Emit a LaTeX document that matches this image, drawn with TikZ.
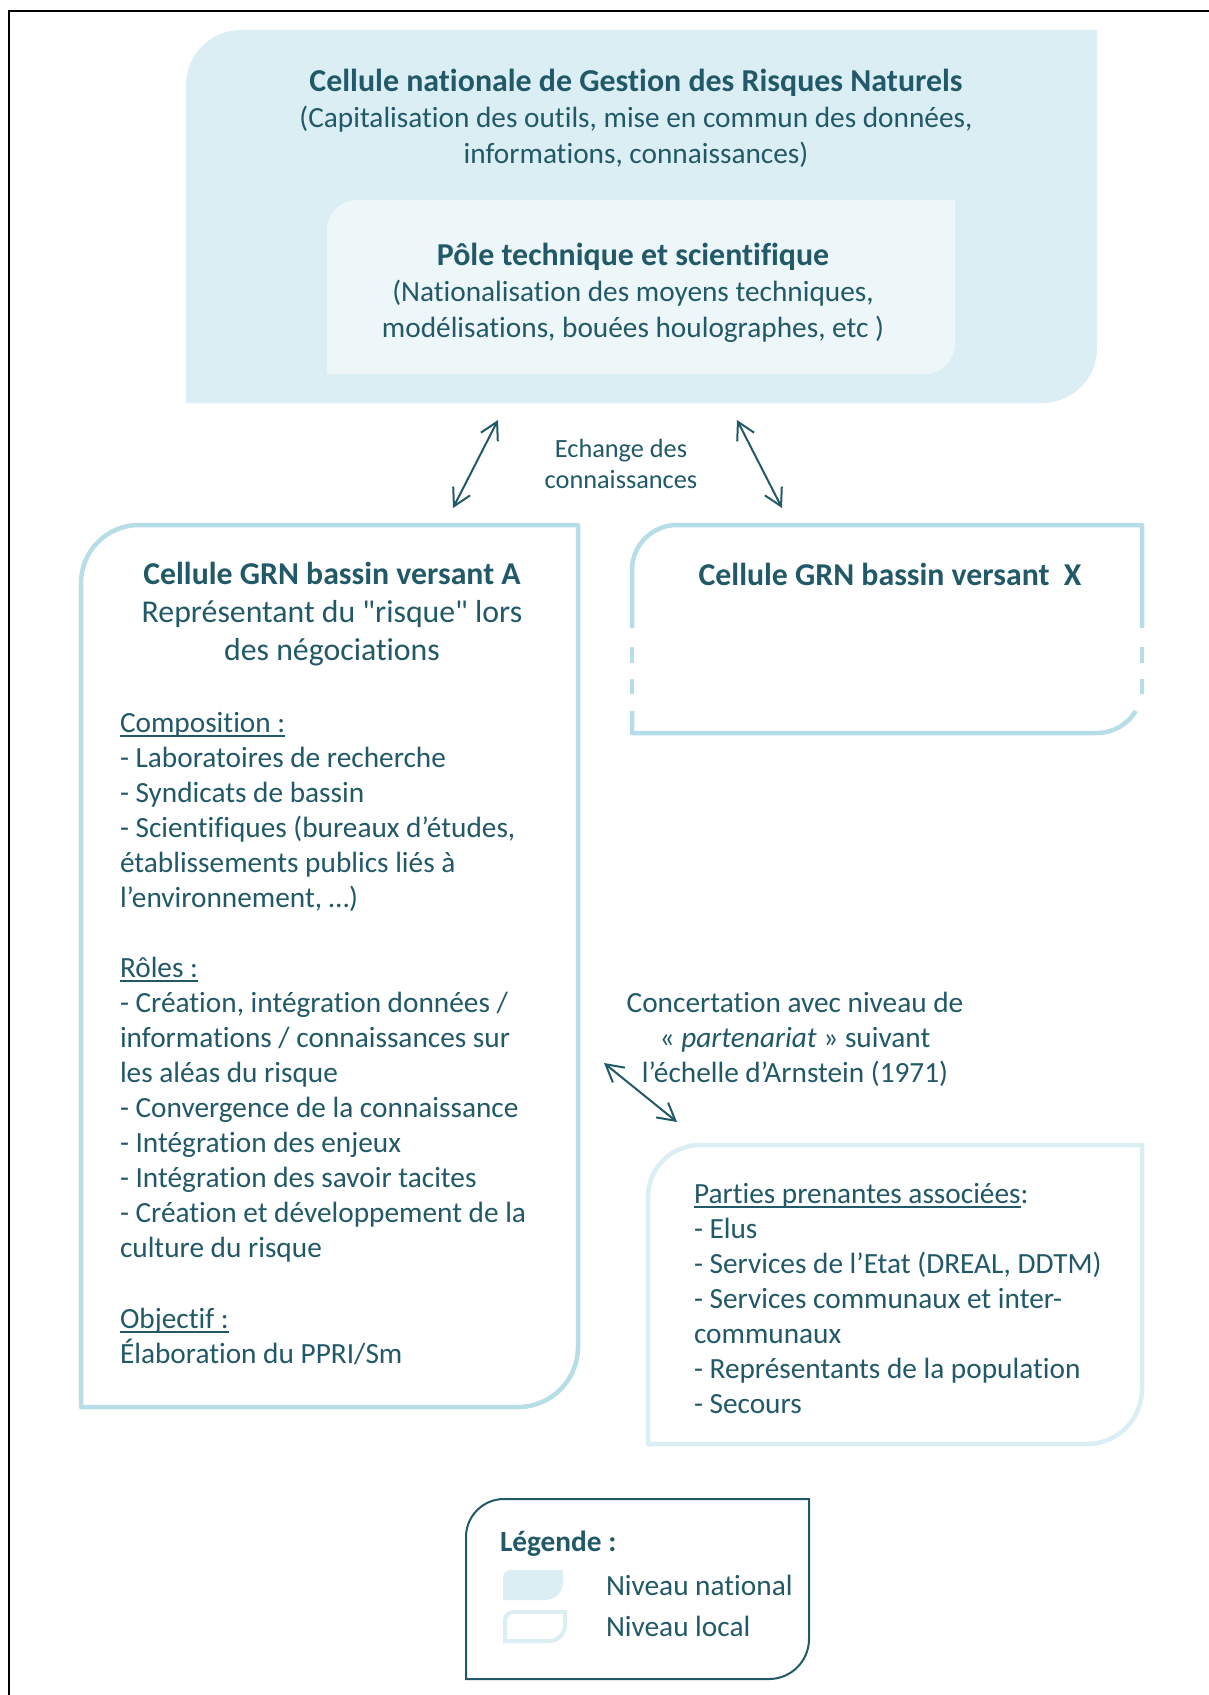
\documentclass[tikz,border=0pt]{standalone}
\usepackage{fontspec}
\setmainfont{Carlito}[Ligatures=NoCommon]
\usetikzlibrary{arrows.meta}
\definecolor{tealdark}{HTML}{215968}
\definecolor{natfill}{HTML}{DAEEF3}
\definecolor{polefill}{HTML}{EDF6F9}
\definecolor{localline}{HTML}{B7DEE8}
\definecolor{partline}{HTML}{DAEEF3}
\newcommand\myul[1]{\setbox0=\hbox{#1}\rlap{\rule[-4.5pt]{\wd0}{1.8pt}}\box0}
\newcommand\fsBody{\fontsize{29.3}{35.06}\selectfont}
\newcommand\fsNat{\fontsize{29.3}{35.8}\selectfont}
\newcommand\fsNatTit{\fontsize{31.9}{35.8}\selectfont\bfseries}
\newcommand\fsTitA{\fontsize{31.8}{38.3}\selectfont}
\newcommand\fsEch{\fontsize{26.3}{31}\selectfont}
\tikzset{
  tlbr/.style n args={6}{insert path={({#1},{#4}) -- ({#1},{#2-#5}) arc[start angle=180,end angle=90,radius=#5] -- ({#3},{#2}) -- ({#3},{#4+#6}) arc[start angle=0,end angle=-90,radius=#6] -- cycle}},
  localbox/.style={draw=localline, line width=4.5pt, line join=round},
  partbox/.style={draw=partline, line width=4.5pt, line join=round},
  arr/.style={draw=tealdark, line width=2pt, {Straight Barb[length=17pt,width=19pt]}-{Straight Barb[length=17pt,width=19pt]}},
  txt/.style={text=tealdark, inner sep=0pt, outer sep=0pt}
}
\begin{document}
\begin{tikzpicture}[x=1pt,y=1pt]
\useasboundingbox (0,0) rectangle (1209,-1695);
\fill[white] (0,0) rectangle (1209,-1695);
\draw[black, line width=1.5pt] (9,-1695) -- (9,-11) -- (1209,-11);

% national cell
\fill[natfill] [tlbr={186}{-30}{1097}{-403}{55}{55}];
\fill[polefill] [tlbr={327}{-200}{955}{-374}{30}{30}];
\node[txt, anchor=base, font=\fsNat] (cn) at (636,-91.5) {\begin{tabular}[t]{@{}c@{}}{\fsNatTit Cellule nationale de Gestion des Risques Naturels}\\(Capitalisation des outils, mise en commun des données,\\informations, connaissances)\end{tabular}};
\node[txt, anchor=base, font=\fsNat] (pole) at (633,-265.5) {\begin{tabular}[t]{@{}c@{}}{\fsNatTit Pôle technique et scientifique}\\(Nationalisation des moyens techniques,\\modélisations, bouées houlographes, etc )\end{tabular}};

% exchange
\node[txt, anchor=base, font=\fsEch] (ech) at (621,-457) {\begin{tabular}[t]{@{}c@{}}Echange des\\connaissances\end{tabular}};
\coordinate (e1a) at (498,-420);
\coordinate (e1b) at (453,-508);
\coordinate (e2a) at (737,-420);
\coordinate (e2b) at (782,-508);
\draw[arr] (e1a) -- (e1b);
\draw[arr] (e2a) -- (e2b);

% box A
\path[localbox] [tlbr={81}{-525}{578}{-1407}{58}{60}];
\node[txt, anchor=base, font=\fsTitA] (titA) at (332,-584) {\begin{tabular}[t]{@{}c@{}}\textbf{Cellule GRN bassin versant A}\\Représentant du \textquotedbl risque\textquotedbl{} lors\\des négociations\end{tabular}};
\node[txt, anchor=base west, font=\fsBody] (bodyA) at (120,-732) {\begin{tabular}[t]{@{}l@{}}\myul{Composition :}\\
- Laboratoires de recherche\\
- Syndicats de bassin\\
- Scientifiques (bureaux d’études,\\
établissements publics liés à\\
l’environnement, …)\\
\\
\myul{Rôles :}\\
- Création, intégration données /\\
informations / connaissances sur\\
les aléas du risque\\
- Convergence de la connaissance\\
- Intégration des enjeux\\
- Intégration des savoir tacites\\
- Création et développement de la\\
culture du risque\\
\\
\myul{Objectif :}\\
Élaboration du PPRI/Sm\end{tabular}};

% box X
\draw[localbox] (632,-628) -- (632,-570) arc[start angle=180,end angle=90,radius=45] -- (1142,-525) -- (1142,-628);
\draw[localbox] (632,-647) -- (632,-663) (632,-679) -- (632,-694) (1142,-647) -- (1142,-663) (1142,-679) -- (1142,-694);
\draw[localbox] (632,-711) -- (632,-733) -- (1097,-733) arc[start angle=-90,end angle=-30.7,radius=45];
\node[txt, anchor=base, font=\fsTitA] (titX) at (890,-585) {\textbf{Cellule GRN bassin versant\ \ X}};

% concertation
\node[txt, anchor=base, font=\fsBody] (conc) at (795,-1012) {\begin{tabular}[t]{@{}c@{}}Concertation avec niveau de\\« \textit{partenariat} » suivant\\l’échelle d’Arnstein (1971)\end{tabular}};
\coordinate (c1a) at (604,-1063);
\coordinate (c1b) at (677,-1122);
\draw[arr] (c1a) -- (c1b);

% parties prenantes
\path[partbox] [tlbr={648}{-1145}{1142}{-1444}{52}{55}];
\node[txt, anchor=base west, font=\fsBody] (parts) at (694,-1203) {\begin{tabular}[t]{@{}l@{}}\myul{Parties prenantes associées}:\\
- Elus\\
- Services de l’Etat (DREAL, DDTM)\\
- Services communaux et inter-\\
communaux\\
- Représentants de la population\\
- Secours\end{tabular}};

% legend
\path[draw=tealdark, line width=2pt] [tlbr={466}{-1499}{809}{-1679}{38}{40}];
\node[txt, anchor=base west, font=\fsBody] (leg) at (500,-1551) {\textbf{Légende :}};
\fill[natfill] [tlbr={503}{-1570}{563}{-1600}{8}{18}];
\path[draw=partline, line width=4pt] [tlbr={505}{-1612}{565}{-1641}{8}{16}];
\node[txt, anchor=base west, font=\fsBody] (legnat) at (606,-1595) {Niveau national};
\node[txt, anchor=base west, font=\fsBody] (legloc) at (606,-1636) {Niveau local};
\end{tikzpicture}
\end{document}
